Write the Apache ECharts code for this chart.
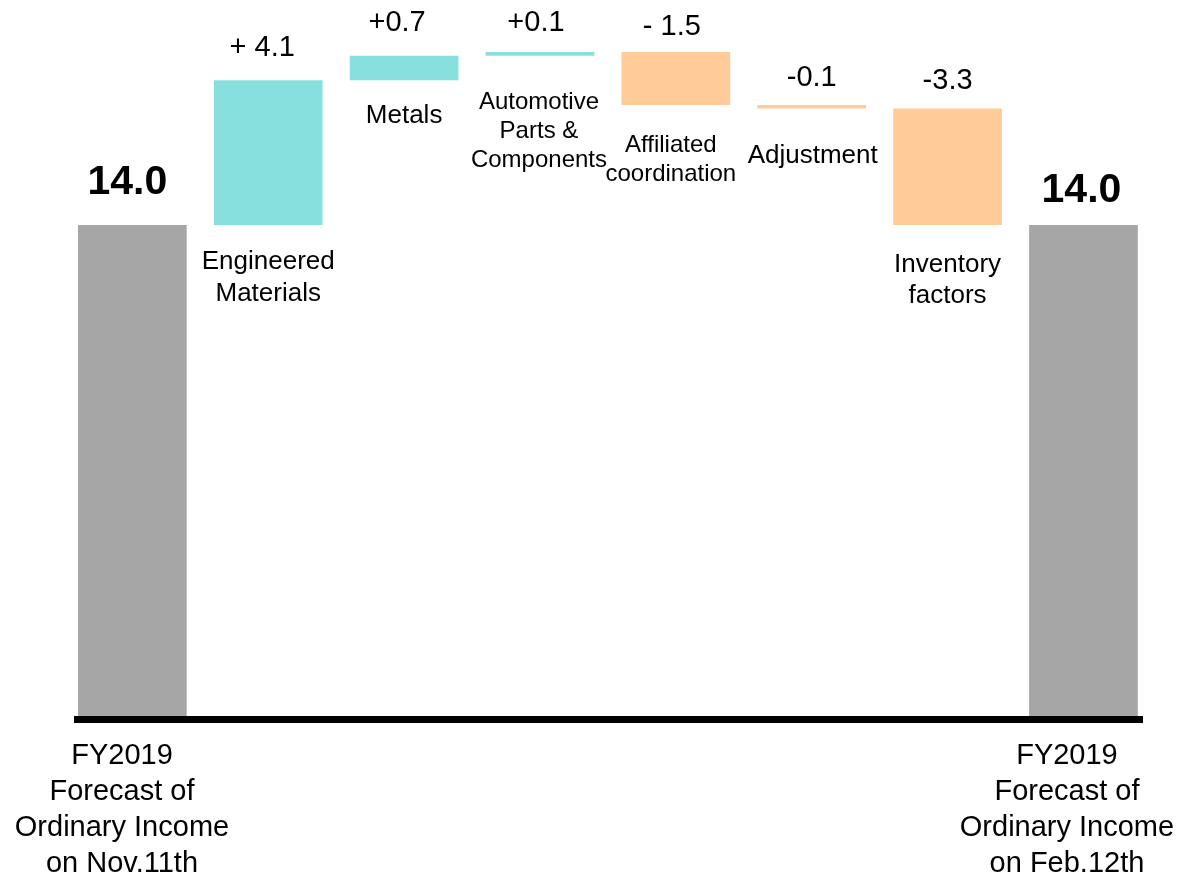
<!DOCTYPE html>
<html>
<head>
<meta charset="utf-8">
<script src="https://cdn.jsdelivr.net/npm/echarts@6/dist/echarts.min.js"></script>
<style>
  html, body { margin: 0; padding: 0; background: #fff; }
  #chart { width: 1179px; height: 873px; }
</style>
</head>
<body>
<div id="chart"></div>
<script>
// ---- data ----
const categories = [
  'FY2019\nForecast of\nOrdinary Income\non Nov.11th',
  'Engineered\nMaterials',
  'Metals',
  'Automotive\nParts &\nComponents',
  'Affiliated\ncoordination',
  'Adjustment',
  'Inventory\nfactors',
  'FY2019\nForecast of\nOrdinary Income\non Feb.12th'
];
const startValue = 14.0;
const changes = [4.1, 0.7, 0.1, -1.5, -0.1, -3.3];
const changeLabels = ['+ 4.1', '+0.7', '+0.1', '- 1.5', '-0.1', '-3.3'];
const endValue = 14.0;
const totalLabels = ['14.0', '14.0'];

// ---- styling / layout ----
const FONT = '"Liberation Sans", Arial, Helvetica, sans-serif';
const TEAL = '#87E0DD';
const ORANGE = '#FFCC99';
const GRAY = '#A6A6A6';
const GRID = { left: 64.4, right: 27.6, top: 13.3, bottom: 154 };
const BAR_W = 108.7;

const valueLabelTweak = [
  { d: 18.3, dx: -6 }, { d: 18.3, dx: -7 }, { d: 15.1, dx: -4 },
  { d: 11.1, dx: -4 }, { d: 13, dx: 0 }, { d: 12.8, dx: 0 }
];
const nameLabelTweak = [
  { d: 20.5, fs: 26, lh: 32, dx: 0 }, { d: 20, fs: 26, lh: 31, dx: 0 },
  { d: 31.9, fs: 24, lh: 29, dx: -1 }, { d: 25.8, fs: 24, lh: 29, dx: -5 },
  { d: 31.9, fs: 26, lh: 31, dx: 1 }, { d: 24.5, fs: 26, lh: 31, dx: 0 }
];
const totalLabelTweak = [{ d: 21.5, dx: -5 }, { d: 13.5, dx: -2 }];

const r1 = v => Math.round(v * 10) / 10;

// ---- build waterfall series ----
const baseData = ['-'];
const deltaData = ['-'];
const totalData = [{
  value: startValue,
  label: { distance: totalLabelTweak[0].d, offset: [totalLabelTweak[0].dx, 0], formatter: totalLabels[0] }
}];
let cum = startValue;
changes.forEach((c, i) => {
  const next = r1(cum + c);
  const nt = nameLabelTweak[i];
  baseData.push({
    value: Math.min(cum, next),
    label: {
      show: true, position: 'insideTop', distance: nt.d, offset: [nt.dx, 0],
      fontSize: nt.fs, lineHeight: nt.lh, formatter: categories[i + 1]
    }
  });
  const vt = valueLabelTweak[i];
  deltaData.push({
    value: r1(Math.abs(c)),
    itemStyle: { color: c >= 0 ? TEAL : ORANGE },
    label: { distance: vt.d, offset: [vt.dx, 0], formatter: changeLabels[i] }
  });
  totalData.push('-');
  cum = next;
});
baseData.push('-');
deltaData.push('-');
totalData.push({
  value: endValue,
  label: { distance: totalLabelTweak[1].d, offset: [totalLabelTweak[1].dx, 0], formatter: totalLabels[1] }
});

const chart = echarts.init(document.getElementById('chart'), null, { renderer: 'canvas' });
chart.setOption({
  animation: false,
  backgroundColor: '#ffffff',
  textStyle: { fontFamily: FONT },
  grid: [
    Object.assign({ outerBoundsMode: 'none', containLabel: false }, GRID),
    { left: 74, right: 36, top: GRID.top, bottom: GRID.bottom, outerBoundsMode: 'none', containLabel: false }
  ],
  xAxis: [
    {
      type: 'category',
      gridIndex: 0,
      data: categories,
      axisLine: { show: false },
      axisTick: { show: false },
      splitLine: { show: false },
      axisLabel: {
        interval: 0,
        margin: 18.5,
        color: '#000',
        fontFamily: FONT,
        formatter: (v, idx) => {
          if (idx === 0) return '{l|' + v + '}';
          if (idx === categories.length - 1) return '{r|' + v + '}';
          return '';
        },
        rich: {
          l: { fontSize: 29, lineHeight: 36.2, color: '#000', fontFamily: FONT, padding: [0, 20.7, 0, 0] },
          r: { fontSize: 29, lineHeight: 36.2, color: '#000', fontFamily: FONT, padding: [0, 33, 0, 0] }
        }
      }
    },
    {
      type: 'value',
      gridIndex: 1,
      min: 0, max: 1,
      z: 10,
      axisLine: { show: true, onZero: false, lineStyle: { color: '#000', width: 7, cap: 'butt' } },
      axisTick: { show: false },
      axisLabel: { show: false },
      splitLine: { show: false }
    }
  ],
  yAxis: [
    { type: 'value', gridIndex: 0, min: 0, max: 20, show: false, splitLine: { show: false } },
    { type: 'value', gridIndex: 1, min: 0, max: 1, show: false, splitLine: { show: false } }
  ],
  series: [
    {
      name: 'base',
      type: 'bar',
      stack: 'waterfall',
      barWidth: BAR_W,
      barGap: '-100%',
      itemStyle: { color: 'transparent' },
      label: { show: true, color: '#000', fontFamily: FONT },
      emphasis: { disabled: true },
      data: baseData
    },
    {
      name: 'change',
      type: 'bar',
      stack: 'waterfall',
      barWidth: BAR_W,
      barGap: '-100%',
      label: { show: true, position: 'top', color: '#000', fontSize: 29, lineHeight: 29, fontFamily: FONT },
      emphasis: { disabled: true },
      data: deltaData
    },
    {
      name: 'total',
      type: 'bar',
      barWidth: BAR_W,
      barGap: '-100%',
      itemStyle: { color: GRAY },
      label: { show: true, position: 'top', color: '#000', fontSize: 41, lineHeight: 41, fontWeight: 'bold', fontFamily: FONT },
      emphasis: { disabled: true },
      data: totalData
    }
  ]
});
</script>
</body>
</html>
